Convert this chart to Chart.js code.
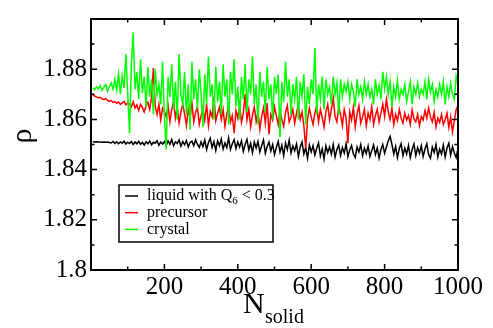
<!DOCTYPE html>
<html>
<head>
<meta charset="utf-8">
<script src="https://cdn.jsdelivr.net/npm/chart.js@4"></script>
<style>
  body { margin: 0; background: #fff; }
  #chart { display: block; }
</style>
</head>
<body>
<canvas id="chart" width="493" height="328"></canvas>
<script>
// N_solid sampled every 5 from 5 to 1000
const stepN = 5;

const liquidRho = [
  1.8511,1.8510,1.8511,1.8510,1.8510,1.8509,1.8510,1.8509,1.8510,1.8508,
  1.8506,1.8512,1.8504,1.8511,1.8503,1.8510,1.8505,1.8513,1.8502,1.8509,
  1.8504,1.8512,1.8500,1.8510,1.8503,1.8513,1.8501,1.8508,1.8498,1.8511,
  1.8503,1.8514,1.8499,1.8509,1.8505,1.8515,1.8497,1.8510,1.8502,1.8512,
  1.8496,1.8515,1.8501,1.8520,1.8495,1.8510,1.8504,1.8518,1.8493,1.8512,
  1.8499,1.8516,1.8490,1.8508,1.8513,1.8495,1.8519,1.8500,1.8488,1.8511,
  1.8492,1.8518,1.8480,1.8508,1.8525,1.8488,1.8512,1.8476,1.8515,1.8495,
  1.8522,1.8482,1.8506,1.8488,1.8526,1.8480,1.8503,1.8519,1.8484,1.8510,
  1.8490,1.8515,1.8472,1.8500,1.8520,1.8478,1.8505,1.8468,1.8510,1.8486,
  1.8512,1.8470,1.8495,1.8518,1.8465,1.8492,1.8510,1.8474,1.8500,1.8460,
  1.8488,1.8512,1.8470,1.8497,1.8456,1.8506,1.8480,1.8518,1.8466,1.8494,
  1.8475,1.8502,1.8452,1.8490,1.8510,1.8462,1.8488,1.8445,1.8498,1.8470,
  1.8495,1.8458,1.8485,1.8506,1.8455,1.8482,1.8442,1.8494,1.8468,1.8490,
  1.8462,1.8500,1.8450,1.8480,1.8498,1.8456,1.8488,1.8466,1.8503,1.8452,
  1.8478,1.8496,1.8462,1.8448,1.8490,1.8470,1.8500,1.8455,1.8485,1.8464,
  1.8494,1.8452,1.8476,1.8498,1.8460,1.8486,1.8446,1.8480,1.8500,1.8465,
  1.8490,1.8515,1.8532,1.8500,1.8462,1.8492,1.8448,1.8484,1.8503,1.8456,
  1.8486,1.8462,1.8496,1.8448,1.8480,1.8502,1.8456,1.8488,1.8465,1.8495,
  1.8452,1.8482,1.8503,1.8460,1.8445,1.8490,1.8468,1.8500,1.8450,1.8482,
  1.8462,1.8498,1.8450,1.8486,1.8505,1.8458,1.8492,1.8466,1.8448,1.8484
];

const precursorRho = [
  1.8697,1.8693,1.8690,1.8686,1.8688,1.8682,1.8679,1.8683,1.8676,1.8672,
  1.8675,1.8668,1.8671,1.8664,1.8669,1.8660,1.8666,1.8672,1.8658,1.8665,
  1.8662,1.8650,1.8670,1.8645,1.8658,1.8636,1.8660,1.8648,1.8630,1.8655,
  1.8668,1.8640,1.8690,1.8805,1.8652,1.8620,1.8660,1.8598,1.8645,1.8632,
  1.8610,1.8655,1.8590,1.8640,1.8672,1.8605,1.8648,1.8585,1.8630,1.8660,
  1.8622,1.8575,1.8640,1.8605,1.8665,1.8590,1.8628,1.8650,1.8580,1.8615,
  1.8645,1.8598,1.8660,1.8575,1.8632,1.8610,1.8690,1.8595,1.8625,1.8648,
  1.8600,1.8640,1.8572,1.8620,1.8655,1.8590,1.8615,1.8545,1.8635,1.8605,
  1.8660,1.8588,1.8625,1.8700,1.8598,1.8640,1.8570,1.8618,1.8650,1.8592,
  1.8630,1.8560,1.8612,1.8645,1.8585,1.8665,1.8540,1.8620,1.8598,1.8650,
  1.8615,1.8580,1.8635,1.8600,1.8572,1.8628,1.8655,1.8590,1.8610,1.8640,
  1.8585,1.8625,1.8660,1.8600,1.8630,1.8575,1.8485,1.8600,1.8645,1.8610,
  1.8580,1.8625,1.8655,1.8590,1.8640,1.8608,1.8570,1.8630,1.8660,1.8598,
  1.8640,1.8685,1.8612,1.8590,1.8650,1.8620,1.8575,1.8640,1.8605,1.8505,
  1.8630,1.8598,1.8648,1.8570,1.8622,1.8655,1.8585,1.8610,1.8640,1.8575,
  1.8625,1.8600,1.8650,1.8580,1.8615,1.8640,1.8590,1.8625,1.8660,1.8612,
  1.8680,1.8630,1.8600,1.8645,1.8578,1.8620,1.8595,1.8640,1.8605,1.8585,
  1.8625,1.8598,1.8615,1.8580,1.8638,1.8602,1.8590,1.8620,1.8575,1.8612,
  1.8598,1.8635,1.8605,1.8645,1.8610,1.8590,1.8628,1.8570,1.8605,1.8588,
  1.8620,1.8580,1.8600,1.8625,1.8568,1.8610,1.8550,1.8595,1.8640,1.8655
];

const crystalRho = [
  1.8725,1.8718,1.8730,1.8722,1.8735,1.8715,1.8728,1.8738,1.8712,1.8730,
  1.8745,1.8720,1.8760,1.8715,1.8780,1.8700,1.8775,1.8725,1.8860,1.8705,
  1.8545,1.8820,1.8946,1.8720,1.8790,1.8680,1.8840,1.8705,1.8770,1.8650,
  1.8810,1.8690,1.8760,1.8620,1.8800,1.8700,1.8740,1.8660,1.8830,1.8610,
  1.8480,1.8770,1.8690,1.8820,1.8640,1.8750,1.8600,1.8860,1.8700,1.8660,
  1.8790,1.8620,1.8740,1.8560,1.8830,1.8680,1.8760,1.8640,1.8800,1.8700,
  1.8570,1.8780,1.8660,1.8850,1.8690,1.8740,1.8600,1.8810,1.8670,1.8750,
  1.8620,1.8820,1.8690,1.8760,1.8580,1.8790,1.8700,1.8840,1.8650,1.8730,
  1.8600,1.8770,1.8680,1.8820,1.8630,1.8760,1.8700,1.8850,1.8660,1.8740,
  1.8580,1.8790,1.8690,1.8750,1.8630,1.8810,1.8680,1.8740,1.8600,1.8770,
  1.8700,1.8780,1.8530,1.8750,1.8670,1.8830,1.8690,1.8760,1.8620,1.8740,
  1.8680,1.8770,1.8600,1.8750,1.8690,1.8780,1.8580,1.8730,1.8660,1.8760,
  1.8700,1.8885,1.8620,1.8740,1.8680,1.8770,1.8640,1.8760,1.8700,1.8730,
  1.8660,1.8770,1.8700,1.8745,1.8620,1.8760,1.8690,1.8740,1.8710,1.8750,
  1.8680,1.8740,1.8710,1.8650,1.8760,1.8700,1.8730,1.8680,1.8750,1.8700,
  1.8740,1.8690,1.8720,1.8660,1.8760,1.8700,1.8735,1.8680,1.8790,1.8720,
  1.8770,1.8700,1.8750,1.8650,1.8730,1.8690,1.8755,1.8680,1.8720,1.8700,
  1.8740,1.8670,1.8710,1.8750,1.8660,1.8730,1.8700,1.8745,1.8690,1.8720,
  1.8700,1.8750,1.8680,1.8760,1.8710,1.8740,1.8670,1.8720,1.8690,1.8740,
  1.8700,1.8750,1.8660,1.8730,1.8690,1.8745,1.8700,1.8680,1.8770,1.8740
];

const seriesLabels = ['liquid with Q_6 < 0.3', 'precursor', 'crystal'];
const seriesColors = ['#000000', '#ff0000', '#00ff00'];
const xTickStep = 200;
const yTickStep = 0.02;

const serif = '"Liberation Serif", "Times New Roman", serif';

function toPoints(arr) {
  return arr.map((v, i) => ({ x: (i + 1) * stepN, y: v }));
}

// draws text, "_x" makes x a subscript
function drawSubText(ctx, text, x, y, size) {
  const parts = text.split(/(_\w)/);
  parts.forEach(p => {
    if (!p) return;
    if (p[0] === '_') {
      ctx.font = Math.round(size * 0.7) + 'px ' + serif;
      ctx.fillText(p.slice(1), x, y + size * 0.3);
      x += ctx.measureText(p.slice(1)).width;
    } else {
      ctx.font = size + 'px ' + serif;
      ctx.fillText(p, x, y);
      x += ctx.measureText(p).width;
    }
  });
}

const framePlugin = {
  id: 'frame',
  afterDatasetsDraw(chart) {
    const { ctx, chartArea: a, scales } = chart;
    ctx.save();
    ctx.strokeStyle = '#000';
    ctx.lineWidth = 1.5;
    // ticks pointing inward, on all four sides
    ctx.beginPath();
    for (let v = 0; v <= 1000; v += 100) {
      const px = scales.x.getPixelForValue(v);
      const len = v % 200 === 0 ? 6 : 3.5;
      ctx.moveTo(px, a.bottom); ctx.lineTo(px, a.bottom - len);
      ctx.moveTo(px, a.top); ctx.lineTo(px, a.top + len);
    }
    for (let k = 0; k <= 10; k++) {
      const py = scales.y.getPixelForValue(1.8 + k * 0.01);
      const len = k % 2 === 0 ? 6 : 3.5;
      ctx.moveTo(a.left, py); ctx.lineTo(a.left + len, py);
      ctx.moveTo(a.right, py); ctx.lineTo(a.right - len, py);
    }
    ctx.stroke();
    ctx.lineWidth = 2;
    ctx.strokeRect(a.left, a.top, a.right - a.left, a.bottom - a.top);

    // legend box
    const lx = 119, ly = 185, lw = 154, lh = 57;
    ctx.fillStyle = '#fff';
    ctx.fillRect(lx, ly, lw, lh);
    ctx.lineWidth = 1.5;
    ctx.strokeRect(lx, ly, lw, lh);
    ctx.textBaseline = 'middle';
    ctx.textAlign = 'left';
    chart.data.datasets.forEach((ds, i) => {
      const yy = ly + 11 + i * 16.7;
      ctx.strokeStyle = ds.borderColor;
      ctx.lineWidth = 1.5;
      ctx.beginPath();
      ctx.moveTo(lx + 6, yy); ctx.lineTo(lx + 19, yy);
      ctx.stroke();
      ctx.fillStyle = '#000';
      drawSubText(ctx, ds.label, lx + 28, yy, 16);
    });

    // axis titles
    ctx.fillStyle = '#000';
    ctx.textBaseline = 'alphabetic';
    ctx.font = '30px ' + serif;
    ctx.fillText('N', 243, 313);
    ctx.font = '20px ' + serif;
    ctx.fillText('solid', 265, 323);

    ctx.save();
    ctx.translate(31, 136);
    ctx.rotate(-Math.PI / 2);
    ctx.textAlign = 'center';
    ctx.font = '30px ' + serif;
    ctx.fillText('ρ', 0, 0);
    ctx.restore();
    ctx.restore();
  }
};

const datasets = [liquidRho, precursorRho, crystalRho].map((arr, i) => ({
  label: seriesLabels[i],
  data: toPoints(arr),
  borderColor: seriesColors[i],
  backgroundColor: seriesColors[i],
  borderWidth: 1.5,
  pointRadius: 0,
  tension: 0,
  order: 3 - i
}));

new Chart(document.getElementById('chart').getContext('2d'), {
  type: 'line',
  data: { datasets },
  options: {
    responsive: false,
    animation: false,
    layout: { padding: { top: 12, right: 35, left: 0, bottom: 0 } },
    plugins: { legend: { display: false }, tooltip: { enabled: false } },
    scales: {
      x: {
        type: 'linear',
        min: 0, max: 1000,
        grid: { display: false, drawTicks: false },
        border: { display: false },
        afterFit: s => { s.height = 58; },
        ticks: {
          stepSize: xTickStep,
          padding: 2,
          color: '#000',
          font: { family: serif, size: 25 },
          maxRotation: 0,
          callback: v => v === 0 ? '' : String(v)
        }
      },
      y: {
        min: 1.8, max: 1.9,
        grid: { display: false, drawTicks: false },
        border: { display: false },
        afterFit: s => { s.width = 91; },
        ticks: {
          stepSize: yTickStep,
          padding: 4,
          color: '#000',
          font: { family: serif, size: 25 },
          callback: v => {
            const r = Math.round(v * 100) / 100;
            return r >= 1.9 ? '' : String(r);
          }
        }
      }
    }
  },
  plugins: [framePlugin]
});
</script>
</body>
</html>
